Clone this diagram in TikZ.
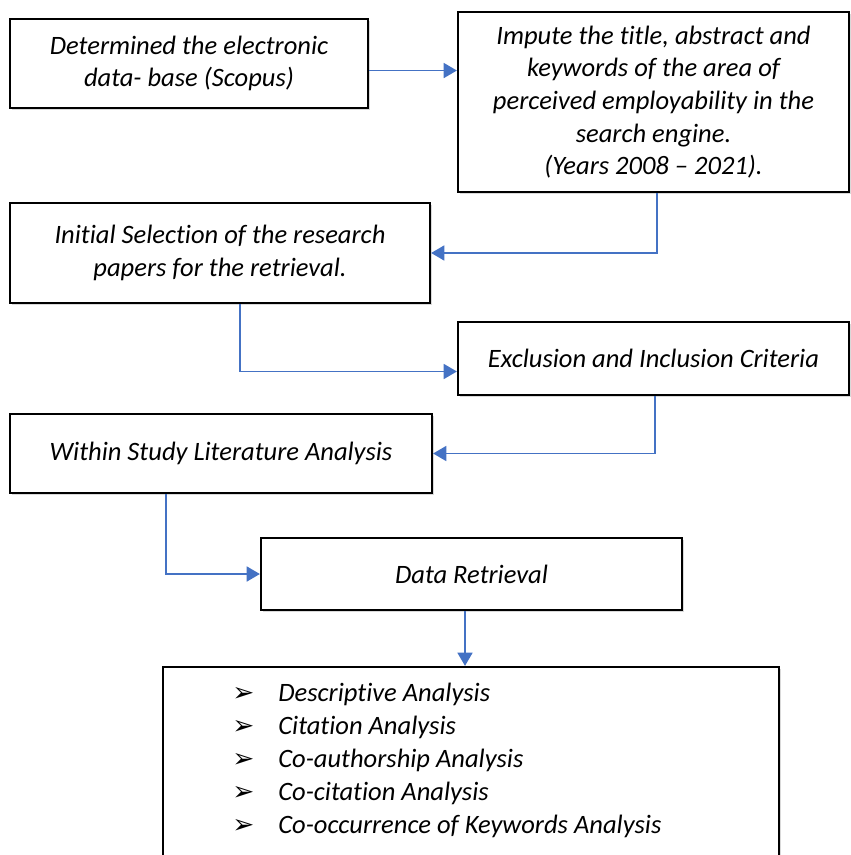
\documentclass[tikz,border=0pt]{standalone}
\usepackage{fontspec}
\setmainfont{Carlito}[Ligatures=NoCommon]
\newfontfamily\arrowfont{DejaVu Sans}
\usetikzlibrary{positioning,calc,shadows,arrows.meta}
\definecolor{flowblue}{RGB}{68,114,196}
\newcommand{\blt}{\makebox[0.92cm][l]{\arrowfont\fontsize{15}{15}\selectfont ➢}}

\begin{document}
\begin{tikzpicture}[x=0.02cm,y=-0.02cm,>={Triangle[length=7.5pt,width=8.5pt]},
                box/.style={draw,line width=1.3pt,fill=white,align=center,inner sep=0pt,
                  font=\fontsize{15.1}{18.6}\selectfont\itshape,
                  drop shadow={shadow xshift=1.3pt,shadow yshift=-1.3pt,opacity=0.3}},
                flow/.style={->,draw=flowblue,line width=1pt}]

\useasboundingbox (0,0) rectangle (850,855);

\node[box,minimum width=7.16cm,minimum height=1.78cm] (A) at (189,63.5)
  {Determined the electronic\\ data- base (Scopus)};
\node[box,minimum width=7.82cm,minimum height=3.6cm] (B) at (653.5,102)
  {Impute the title, abstract and\\ keywords of the area of\\ perceived employability in the\\ search engine.\\ (Years 2008 -- 2021).};
\node[box,minimum width=8.4cm,minimum height=2cm] (C) at (220,253)
  {Initial Selection of the research\\ papers for the retrieval.};
\node[box,minimum width=7.82cm,minimum height=1.46cm] (D) at (653.5,358.5)
  {Exclusion and Inclusion Criteria};
\node[box,minimum width=8.44cm,minimum height=1.58cm] (E) at (221,453.5)
  {Within Study Literature Analysis};
\node[box,minimum width=8.42cm,minimum height=1.44cm] (F) at (471.5,574)
  {Data Retrieval};
\node[box,minimum width=12.32cm,minimum height=4.06cm] (G) at (471,768.5) {};
\node[anchor=north west,align=left,inner sep=0pt,
      font=\fontsize{15.1}{18.8}\selectfont\itshape] (list) at (232,683)
  {\blt Descriptive Analysis\\
   \blt Citation Analysis\\
   \blt Co-authorship Analysis\\
   \blt Co-citation Analysis\\
   \blt Co-occurrence of Keywords Analysis};

% connectors
\draw[flow] ([yshift=-4pt]A.east) -- ([yshift=-4pt]A.east -| B.west);
\draw[flow] ([xshift=0.07cm]B.south) |- (C.east);
\draw[flow] ([xshift=0.4cm]C.south) |- ([yshift=-0.26cm]D.west);
\draw[flow] ([xshift=0.03cm]D.south) |- (E.east);
\draw[flow] ([xshift=-1.1cm]E.south) |- (F.west);
\draw[flow] ([xshift=-0.13cm]F.south) -- ([xshift=-0.13cm]F.south |- G.north);

\end{tikzpicture}
\end{document}
